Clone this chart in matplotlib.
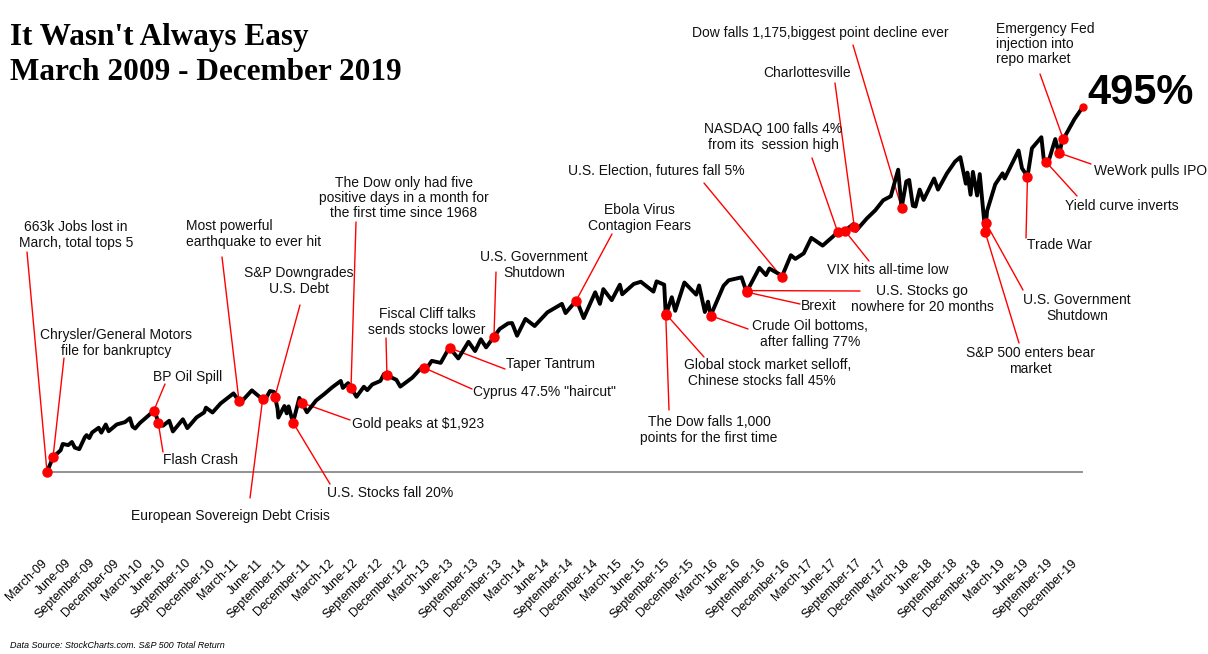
import matplotlib
matplotlib.use("Agg")
import matplotlib.pyplot as plt
import matplotlib.dates as mdates
import matplotlib.transforms as mtransforms
import numpy as np
import pandas as pd

# ---------------- data (cumulative S&P 500 total return, %) ----------------
dates = [
    "2009-03-09", "2009-04-01", "2009-04-30", "2009-05-08", "2009-05-29",
    "2009-06-12", "2009-06-23", "2009-07-10", "2009-07-31", "2009-08-07", "2009-08-17",
    "2009-08-28", "2009-09-22", "2009-10-02",
    "2009-10-19", "2009-10-30", "2009-11-30", "2009-12-31",
    "2010-01-19", "2010-01-29", "2010-02-08", "2010-02-26", "2010-03-31", "2010-04-23",
    "2010-05-07", "2010-05-25", "2010-06-18", "2010-07-02", "2010-08-09", "2010-08-26",
    "2010-09-30", "2010-10-29", "2010-11-05", "2010-11-30", "2010-12-31",
    "2011-02-18", "2011-03-16", "2011-04-29", "2011-06-16", "2011-07-07", "2011-07-22",
    "2011-08-05", "2011-08-08", "2011-08-31", "2011-09-09", "2011-09-16", "2011-10-03",
    "2011-10-27", "2011-11-25", "2011-12-30",
    "2012-01-31", "2012-02-29", "2012-04-02", "2012-04-10", "2012-04-30", "2012-06-01",
    "2012-06-29", "2012-07-12", "2012-07-31", "2012-08-31", "2012-09-14", "2012-10-31",
    "2012-11-15", "2012-12-31",
    "2013-01-31", "2013-02-28", "2013-03-15", "2013-04-18", "2013-05-21", "2013-06-24",
    "2013-08-02", "2013-08-27", "2013-09-18", "2013-10-08", "2013-11-29", "2013-12-31",
    "2014-01-15", "2014-02-03", "2014-03-07", "2014-04-11", "2014-05-30", "2014-07-24",
    "2014-08-07", "2014-09-18", "2014-10-15", "2014-11-28", "2014-12-16", "2014-12-29",
    "2015-01-30", "2015-03-02", "2015-03-11", "2015-04-24", "2015-05-21", "2015-07-08",
    "2015-07-20", "2015-08-18", "2015-08-24", "2015-09-16", "2015-09-29", "2015-11-03",
    "2015-12-18", "2015-12-29",
    "2016-01-20", "2016-02-01", "2016-02-11", "2016-03-31", "2016-04-20", "2016-06-08",
    "2016-06-27", "2016-08-15", "2016-09-09", "2016-09-22", "2016-10-31", "2016-11-04",
    "2016-12-13", "2016-12-30",
    "2017-01-31", "2017-03-01", "2017-04-13", "2017-05-31", "2017-06-09", "2017-06-30",
    "2017-08-07", "2017-08-18", "2017-09-29", "2017-10-31", "2017-11-30", "2017-12-29",
    "2018-01-26", "2018-02-08", "2018-02-26", "2018-03-09", "2018-03-23", "2018-04-02",
    "2018-04-18", "2018-05-03", "2018-06-12", "2018-06-27", "2018-07-31", "2018-08-31",
    "2018-09-20", "2018-10-11", "2018-10-17", "2018-10-29", "2018-11-07", "2018-11-23",
    "2018-12-03", "2018-12-24", "2018-12-31",
    "2019-01-31", "2019-02-28", "2019-03-08", "2019-04-30", "2019-05-13", "2019-06-03",
    "2019-06-20", "2019-07-26", "2019-08-05", "2019-08-14", "2019-08-23", "2019-09-17",
    "2019-10-02", "2019-10-11", "2019-10-25", "2019-11-29", "2019-12-31",
]
returns_pct = [
    0, 20, 29.5, 38, 36.5,
    40.7, 33, 31, 47, 50, 46,
    53.6, 60, 53.4,
    64.4, 55.3, 64.5, 67.6,
    73, 61.6, 59, 66.4, 76.6, 84,
    67, 62.7, 69.5, 55, 71.5, 59.5,
    74, 80.8, 87.3, 80.7, 93,
    106.6, 93.7, 110.7, 96.4, 109.8, 108.7,
    86, 73.8, 89.5, 79.5, 89, 67,
    100.5, 81, 97,
    106, 114.8, 123.5, 114, 120.5, 102,
    115.6, 111, 118.7, 123.5, 133, 125,
    115.8, 128,
    140, 143, 150.7, 148, 169, 154,
    176.6, 164, 180, 169, 194, 201.6,
    202, 184.8, 207.6, 198, 216.6, 228,
    215.5, 233, 208.7, 243.7, 228, 248,
    233, 254, 241, 255, 258, 244.6,
    258.5, 254, 213, 237, 218.6, 257,
    240.5, 253,
    217, 231, 212, 252.4, 260, 264,
    244, 277, 267, 276, 268, 261,
    294, 289,
    296.5, 317.5, 307, 322, 326, 325,
    336, 327, 344, 355, 368.5, 374,
    410, 358, 394, 396, 361, 360,
    383, 369, 398, 383, 405, 421,
    427, 391, 406, 376, 407, 375,
    404, 325, 354,
    390, 405, 398, 436, 412, 400.5,
    439, 454, 421, 420, 422, 451.5,
    430, 446, 456, 478.5, 495,
]

tick_labels = [f"{m}-{y:02d}" for y in range(9, 20)
               for m in ("March", "June", "September", "December")]

event_labels = [
    "663k Jobs lost in\nMarch, total tops 5",
    "Chrysler/General Motors\nfile for bankruptcy",
    "BP Oil Spill",
    "Flash Crash",
    "Most powerful\nearthquake to ever hit",
    "European Sovereign Debt Crisis",
    "S&P Downgrades\nU.S. Debt",
    "U.S. Stocks fall 20%",
    "Gold peaks at $1,923",
    "The Dow only had five\npositive days in a month for\nthe first time since 1968",
    "Fiscal Cliff talks\nsends stocks lower",
    'Cyprus 47.5% "haircut"',
    "Taper Tantrum",
    "U.S. Government\nShutdown",
    "Ebola Virus\nContagion Fears",
    "The Dow falls 1,000\npoints for the first time",
    "Global stock market selloff,\n Chinese stocks fall 45%",
    "Crude Oil bottoms,\nafter falling 77%",
    "Brexit",
    "U.S. Stocks go\nnowhere for 20 months",
    "U.S. Election, futures fall 5%",
    "NASDAQ 100 falls 4%\nfrom its  session high",
    "VIX hits all-time low",
    "Charlottesville",
    "Dow falls 1,175,biggest point decline ever",
    "S&P 500 enters bear\nmarket",
    "U.S. Government\nShutdown",
    "Trade War",
    "Yield curve inverts",
    "WeWork pulls IPO",
    "Emergency Fed\ninjection into\nrepo market",
]
event_dates = [
    "2009-03-09", "2009-04-01", "2010-04-20", "2010-05-07", "2011-03-11", "2011-06-09",
    "2011-07-26", "2011-10-03", "2011-11-06", "2012-05-11", "2012-09-25", "2013-02-13",
    "2013-05-23", "2013-11-07", "2014-09-16", "2015-08-24", "2015-08-25", "2016-02-11",
    "2016-06-27", "2016-06-30", "2016-11-08", "2017-06-09", "2017-07-07", "2017-08-12",
    "2018-02-08", "2018-12-24", "2018-12-27", "2019-06-03", "2019-08-14", "2019-09-30",
    "2019-10-18",
]

# ---------------- layout (pixels, top-left origin) ----------------
# (text x, text y, alignment, leader-line start x, leader-line start y)
event_layout = [
    (76, 235, "center", 27, 252),
    (116, 343, "center", 64, 358),
    (188, 377, "center", 165, 384),
    (163, 460, "left", 163, 452),
    (186, 234, "left", 222, 257),
    (230, 516, "center", 250, 498),
    (299, 281, "center", 300, 305),
    (327, 493, "left", 330, 484),
    (352, 424, "left", 350, 420),
    (404, 198, "center", 356, 222),
    (427, 322, "center", 386, 338),
    (473, 392, "left", 472, 389),
    (506, 364, "left", 505, 369),
    (534, 265, "center", 496, 272),
    (639, 218, "center", 612, 234),
    (709, 430, "center", 669, 410),
    (684, 373, "left", 704, 357),
    (810, 334, "center", 748, 329),
    (801, 306, "left", 800, 304),
    (922, 299, "center", 860, 291),
    (568, 171, "left", 704, 183),
    (773, 137, "center", 812, 158),
    (827, 270, "left", 869, 261),
    (763, 73, "left", 835, 83),
    (692, 33, "left", 853, 45),
    (1030, 361, "center", 1019, 343),
    (1077, 308, "center", 1023, 290),
    (1027, 245, "left", 1026, 238),
    (1065, 206, "left", 1077, 196),
    (1094, 171, "left", 1091, 164),
    (996, 44, "left", 1040, 74),
]

W, H = 1208, 654
SANS = ["Liberation Sans", "DejaVu Sans"]
plt.rcParams["font.family"] = SANS

fig = plt.figure(figsize=(W / 100, H / 100), dpi=100)

# axis scale: start date at px 47, 0.2623 px/day; 0% at px 472, 0.7374 px per %
px_per_day = 0.2623
px_per_pct = 0.7374
x_start_px, zero_px, bottom_px = 47, 472, 557

ax = fig.add_axes([0, 1 - bottom_px / H, 1, bottom_px / H])
d = pd.to_datetime(dates)
x = mdates.date2num(d.to_pydatetime())
y = np.array(returns_pct, dtype=float)
x0 = x[0]
ax.set_xlim(x0 - x_start_px / px_per_day, x0 + (W - x_start_px) / px_per_day)
ax.set_ylim(-(bottom_px - zero_px) / px_per_pct, zero_px / px_per_pct)
for s in ax.spines.values():
    s.set_visible(False)
ax.set_yticks([])

# baseline
ax.hlines(0, x[0], x[-1], color="#808080", lw=1.2, zorder=1)
# main line
ax.plot(x, y, color="black", lw=2.8, zorder=3, solid_joinstyle="round")

# ticks
tick_x = mdates.date2num(pd.to_datetime(tick_labels, format="%B-%y").to_pydatetime())
ax.set_xticks(tick_x)
ax.set_xticklabels(tick_labels, rotation=45, ha="right", va="top",
                   rotation_mode="anchor", fontsize=9)
ax.tick_params(axis="x", length=0, pad=0)
off = mtransforms.ScaledTranslation(-4 / 100, 0, fig.dpi_scale_trans)
for lab in ax.get_xticklabels():
    lab.set_transform(lab.get_transform() + off)

# events
ex = mdates.date2num(pd.to_datetime(event_dates).to_pydatetime())
ey = np.interp(ex, x, y)
for (lbl, px, pv, lay) in zip(event_labels, ex, ey, event_layout):
    tx, ty, ha, lx, ly = lay
    ax.annotate("", xy=(px, pv), xycoords="data",
                xytext=(lx, H - ly), textcoords="figure pixels",
                arrowprops=dict(arrowstyle="-", color="red", lw=1.0,
                                shrinkA=0, shrinkB=0), zorder=2)
    fig.text(tx / W, 1 - ty / H, lbl, ha=ha, va="center", multialignment=ha,
             fontsize=10, linespacing=1.12, color="#111111")
ax.plot(ex, ey, "o", color="red", ms=6.5, zorder=4, mec="red")
ax.plot(x[-1:], y[-1:], "o", color="red", ms=5, zorder=4)

# titles and texts
fig.text(10 / W, 1 - 45 / H, "It Wasn't Always Easy", family=["Liberation Serif"],
         weight="bold", fontsize=22.5, va="baseline")
fig.text(10 / W, 1 - 80 / H, "March 2009 - December 2019", family=["Liberation Serif"],
         weight="bold", fontsize=22.5, va="baseline")
fig.text(1087 / W, 1 - 104 / H, f"{returns_pct[-1]:.0f}%", weight="bold", fontsize=30,
         va="baseline")
fig.text(10 / W, 1 - 646 / H, "Data Source: StockCharts.com. S&P 500 Total Return",
         style="italic", fontsize=6.5, va="center")

fig.savefig("out.png", dpi=100)
